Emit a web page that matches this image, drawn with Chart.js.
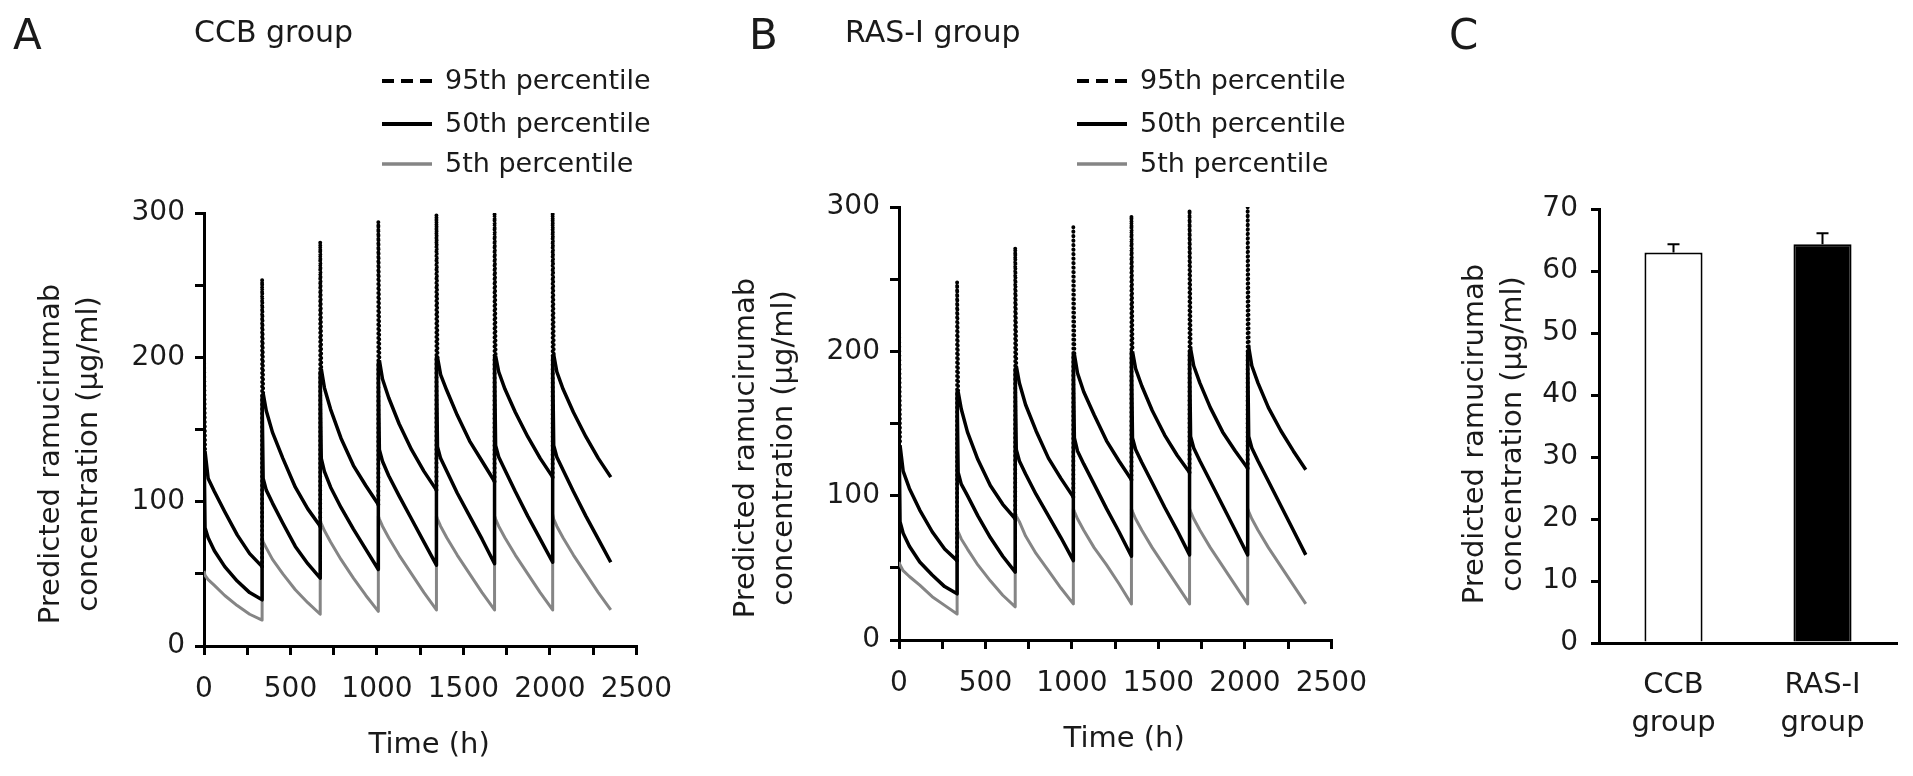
<!DOCTYPE html>
<html>
<head>
<meta charset="utf-8">
<script src="https://cdn.jsdelivr.net/npm/chart.js@4.4.1/dist/chart.umd.min.js"></script>
<style>
  html, body { margin: 0; padding: 0; background: #fff; }
  body { width: 1913px; height: 776px; position: relative; overflow: hidden; }
  .panel { position: absolute; top: 0; height: 776px; }
  #boxA { left: 0; width: 690px; }
  #boxB { left: 695px; width: 690px; }
  #boxC { left: 1385px; width: 528px; }
</style>
</head>
<body>
<div class="panel" id="boxA"><canvas id="chartA"></canvas></div>
<div class="panel" id="boxB"><canvas id="chartB"></canvas></div>
<div class="panel" id="boxC"><canvas id="chartC"></canvas></div>
<script>
// time points (h): dose every 336 h, each cycle read at the same offsets
var timeH = [0,6,24,60,120,192,264,336,
  336,342,360,396,456,528,600,672,
  672,678,696,732,792,864,936,1008,
  1008,1014,1032,1068,1128,1200,1272,1344,
  1344,1350,1368,1404,1464,1536,1608,1680,
  1680,1686,1704,1740,1800,1872,1944,2016,
  2016,2022,2040,2076,2136,2208,2280,2352];

// CCB group
var ccb95 = [205,135,116,107,93,77,64,55,
  254,175,163,148,130,110,95,83,
  280,192,179,164,144,125,111,98,
  294,198,185,172,154,136,121,108,
  299,200,188,177,160,142,128,114,
  300,201,190,178,162,145,130,117,
  300,202,190,178,162,145,130,117];
var ccb50 = [143,82,75,66,55,45,37,32,
  173,116,108,99,85,69,57,47,
  190,130,121,110,96,81,67,53,
  196,136,128,118,104,88,72,56,
  200,138,130,121,106,90,74,57,
  200,139,131,122,107,90,74,58,
  200,139,131,122,107,90,74,58];
var ccb5 = [52,49,46,42,35,28,22,18,
  75,72,68,60,50,39,30,22,
  86,85,80,72,60,47,35,24,
  90,88,83,75,63,50,37,25,
  90,88,83,75,63,50,37,25,
  90,88,83,75,63,50,37,25,
  91,88,83,75,63,50,37,25];

// RAS-I group
var ras95 = [225,135,117,105,90,75,63,55,
  248,172,160,144,125,107,94,84,
  272,190,178,163,145,126,112,99,
  286,198,185,172,156,138,124,111,
  294,200,188,176,159,142,128,116,
  298,202,190,178,161,144,131,119,
  300,203,190,178,161,145,131,118];
var ras50 = [150,82,74,65,54,45,37,32,
  172,116,108,100,86,71,58,47,
  188,132,124,115,101,86,71,55,
  198,140,131,122,108,91,75,58,
  200,140,132,123,109,92,76,59,
  200,141,133,124,110,93,76,59,
  200,141,133,124,110,93,76,59];
var ras5 = [54,52,48,44,38,30,24,18,
  77,75,70,63,52,41,31,23,
  88,86,82,72,60,48,36,25,
  91,89,84,76,64,52,39,25,
  91,89,84,76,64,51,38,25,
  91,89,84,76,64,51,38,25,
  91,89,84,76,64,51,38,25];

var percentiles = ['95th percentile', '50th percentile', '5th percentile'];
var timeTicks = [0, 500, 1000, 1500, 2000, 2500];
var concTicks = [0, 100, 200, 300];

// panel C
var groups = [['CCB', 'group'], ['RAS-I', 'group']];
var meanConc = [63.0, 64.3];
var sdConc = [1.3, 1.8];

Chart.defaults.font.family = '"DejaVu Sans", sans-serif';
Chart.defaults.color = '#1a1a1a';

var FONT = '"DejaVu Sans", sans-serif';

// letters, group titles and axis titles
var panelText = {
  id: 'panelText',
  afterDraw: function(chart, args, o) {
    var ctx = chart.ctx, a = chart.chartArea;
    ctx.save();
    ctx.fillStyle = '#1a1a1a';
    ctx.textAlign = 'left';
    ctx.textBaseline = 'alphabetic';
    ctx.font = '42px ' + FONT;
    ctx.fillText(o.letter, o.letterX, 49);
    if (o.group) {
      ctx.font = '30px ' + FONT;
      ctx.fillText(o.group, o.groupX, 42);
    }
    ctx.font = '29px ' + FONT;
    if (o.xTitle) {
      ctx.textAlign = 'center';
      ctx.fillText(o.xTitle, (a.left + a.right) / 2 + 9, a.bottom + 107);
    }
    ctx.translate(a.left + o.yDx, a.top + o.yDy);
    ctx.rotate(-Math.PI / 2);
    ctx.textAlign = 'center';
    ctx.textBaseline = 'middle';
    for (var i = 0; i < o.yTitle.length; i++) {
      ctx.fillText(o.yTitle[i], 0, i * 38);
    }
    ctx.restore();
  }
};

// stacked legend above the plot
var legendRows = [81, 124, 164];
var stackLegend = {
  id: 'stackLegend',
  afterDraw: function(chart, args, o) {
    if (!o.show) return;
    var ctx = chart.ctx, a = chart.chartArea;
    var x0 = a.left + 178;
    ctx.save();
    ctx.font = '27px ' + FONT;
    ctx.textAlign = 'left';
    ctx.textBaseline = 'middle';
    chart.data.datasets.forEach(function(ds, i) {
      var y = legendRows[i];
      ctx.strokeStyle = ds.borderColor;
      ctx.lineWidth = ds.borderWidth + 0.5;
      ctx.setLineDash(o.dashes[i]);
      ctx.beginPath();
      ctx.moveTo(x0, y);
      ctx.lineTo(x0 + 50, y);
      ctx.stroke();
      ctx.fillStyle = '#1a1a1a';
      ctx.fillText(ds.label, x0 + 63, y + 1);
    });
    ctx.restore();
  }
};

// upper error bars on panel C
var errorBars = {
  id: 'errorBars',
  afterDatasetsDraw: function(chart) {
    var ctx = chart.ctx, y = chart.scales.y;
    var meta = chart.getDatasetMeta(0);
    ctx.save();
    ctx.strokeStyle = '#000';
    ctx.lineWidth = 2;
    meta.data.forEach(function(bar, i) {
      var top = y.getPixelForValue(meanConc[i] + sdConc[i]);
      ctx.beginPath();
      ctx.moveTo(bar.x, bar.y);
      ctx.lineTo(bar.x, top);
      ctx.moveTo(bar.x - 6, top);
      ctx.lineTo(bar.x + 6, top);
      ctx.stroke();
    });
    ctx.restore();
  }
};

function pts(vals) {
  return timeH.map(function(t, i) { return {x: t, y: vals[i]}; });
}

function isSpike(ctx) {
  return ctx.p1.parsed.x - ctx.p0.parsed.x <= 6;
}

function lineSets(v95, v50, v5) {
  return [
    {label: percentiles[0], data: pts(v95), borderColor: '#000', borderWidth: 3.5,
      segment: {
        borderDash: function(ctx) { return isSpike(ctx) ? [0, 4.5] : undefined; },
        borderCapStyle: function(ctx) { return isSpike(ctx) ? 'round' : undefined; },
        borderWidth: function(ctx) { return isSpike(ctx) ? 4 : undefined; }
      }},
    {label: percentiles[1], data: pts(v50), borderColor: '#000', borderWidth: 3.5},
    {label: percentiles[2], data: pts(v5), borderColor: '#858585', borderWidth: 3}
  ];
}

function axisLook(tl) {
  return {
    grid: {drawOnChartArea: false, color: '#000', lineWidth: 3, tickLength: tl},
    border: {display: true, color: '#000', width: 3}
  };
}

function lineChart(id, sets, top, texts) {
  var xs = axisLook(9), ys = axisLook(9);
  return new Chart(document.getElementById(id), {
    type: 'line',
    data: {datasets: sets},
    options: {
      responsive: true,
      maintainAspectRatio: false,
      animation: false,
      events: [],
      layout: {padding: {left: 104, right: 51, top: top, bottom: 776 - top - 433 - 100}},
      elements: {point: {radius: 0}, line: {tension: 0, borderJoinStyle: 'round', fill: false}},
      scales: {
        x: {
          type: 'linear', min: 0, max: 2500,
          grid: xs.grid, border: xs.border,
          afterFit: function(s) { s.height = 100; },
          ticks: {
            stepSize: 250, autoSkip: false, maxRotation: 0, minRotation: 0,
            padding: 18, font: {size: 28},
            callback: function(v) { return timeTicks.indexOf(v) >= 0 ? String(v) : ''; }
          }
        },
        y: {
          min: 0, max: 300,
          grid: ys.grid, border: ys.border,
          afterFit: function(s) { s.width = 100; },
          ticks: {
            stepSize: 50, autoSkip: false, padding: 10, font: {size: 28},
            callback: function(v) { return concTicks.indexOf(v) >= 0 ? String(v) : ''; }
          }
        }
      },
      plugins: {
        legend: {display: false},
        tooltip: {enabled: false},
        stackLegend: {show: true, dashes: [[12, 7], [], []]},
        panelText: texts
      }
    },
    plugins: [stackLegend, panelText]
  });
}

var yTitleLines = ['Predicted ramucirumab', 'concentration (\u03bcg/ml)'];

lineChart('chartA', lineSets(ccb95, ccb50, ccb5), 213, {
  letter: 'A', letterX: 13, group: 'CCB group', groupX: 194,
  xTitle: 'Time (h)', yTitle: yTitleLines, yDx: -153, yDy: 241
});

lineChart('chartB', lineSets(ras95, ras50, ras5), 207, {
  letter: 'B', letterX: 54, group: 'RAS-I group', groupX: 150,
  xTitle: 'Time (h)', yTitle: yTitleLines, yDx: -153, yDy: 241
});

var cy = axisLook(8);
new Chart(document.getElementById('chartC'), {
  type: 'bar',
  data: {
    labels: groups,
    datasets: [{
      data: meanConc,
      backgroundColor: ['#ffffff', '#000000'],
      borderColor: '#000',
      borderWidth: 2,
      categoryPercentage: 1,
      barPercentage: 0.39
    }]
  },
  options: {
    responsive: true,
    maintainAspectRatio: false,
    animation: false,
    events: [],
    layout: {padding: {left: 114, right: 16, top: 209, bottom: 33}},
    scales: {
      x: {
        grid: {display: false},
        border: {display: true, color: '#000', width: 3},
        afterFit: function(s) { s.height = 100; },
        ticks: {padding: 16, font: {size: 29, lineHeight: 1.3}, maxRotation: 0}
      },
      y: {
        min: 0, max: 70,
        grid: cy.grid, border: cy.border,
        afterFit: function(s) { s.width = 100; },
        ticks: {stepSize: 10, padding: 13, font: {size: 28}}
      }
    },
    plugins: {
      legend: {display: false},
      tooltip: {enabled: false},
      panelText: {letter: 'C', letterX: 64, yTitle: yTitleLines, yDx: -124, yDy: 225}
    }
  },
  plugins: [errorBars, panelText]
});
</script>
</body>
</html>
